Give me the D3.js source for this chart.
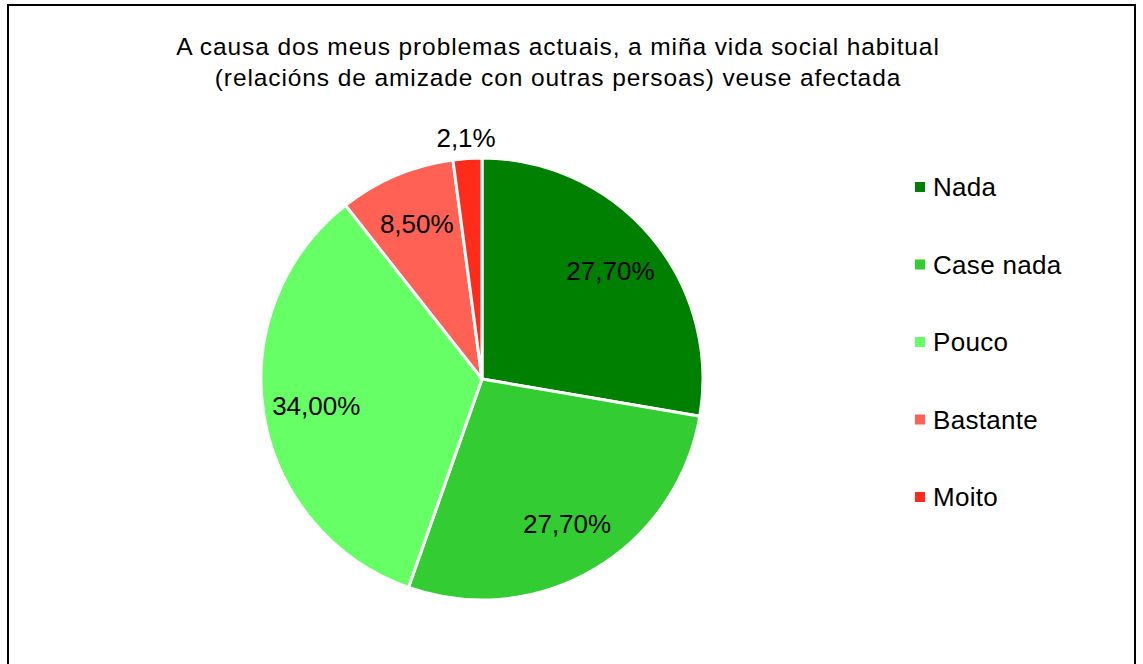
<!DOCTYPE html>
<html lang="gl">
<head>
    <meta charset="UTF-8">
    <title>Vida social habitual</title>
    <script src="https://d3js.org/d3.v7.min.js"></script>
    <style>
        body { margin: 0; background: #fff; }
        svg { display: block; font-family: "Liberation Sans", Arial, sans-serif; }
    </style>
</head>
<body>
    <svg width="1143" height="664"></svg>

    <script>
        // Data
        const categories = ["Nada", "Case nada", "Pouco", "Bastante", "Moito"];
        const values = [27.7, 27.7, 34.0, 8.5, 2.1];
        const labels = ["27,70%", "27,70%", "34,00%", "8,50%", "2,1%"];
        const colors = ["#008000", "#33CC33", "#66FF66", "#FF6155", "#FF2B1B"];
        const titleLines = [
            "A causa dos meus problemas actuais, a miña vida social habitual",
            "(relacións de amizade con outras persoas) veuse afectada"
        ];

        const width = 1143;
        const height = 664;
        const svg = d3.select("svg");

        // Chart frame (bottom edge runs off the picture)
        svg.append("rect")
            .attr("x", 8)
            .attr("y", 5)
            .attr("width", 1127)
            .attr("height", 720)
            .attr("fill", "#fff")
            .attr("stroke", "#000")
            .attr("stroke-width", 2);

        // Title
        svg.append("g")
            .selectAll("text")
            .data(titleLines)
            .join("text")
            .attr("x", 558)
            .attr("y", (d, i) => 55 + i * 31)
            .attr("text-anchor", "middle")
            .style("font-size", "24.5px")
            .style("letter-spacing", "0.9px")
            .attr("fill", "#000")
            .text(d => d);

        // Pie
        const cx = 482, cy = 379, radius = 221;
        const pie = d3.pie().sort(null).value(d => d)(values);
        const arc = d3.arc().innerRadius(0).outerRadius(radius);
        const labelArc = d3.arc().innerRadius(168).outerRadius(168);
        const outerLabelArc = d3.arc().innerRadius(242).outerRadius(242);

        const g = svg.append("g").attr("transform", `translate(${cx},${cy})`);

        g.selectAll("path")
            .data(pie)
            .join("path")
            .attr("d", arc)
            .attr("fill", (d, i) => colors[i])
            .attr("stroke", "#fff")
            .attr("stroke-width", 3)
            .attr("stroke-linejoin", "round");

        // Data labels: small slice goes outside
        g.selectAll("text.lbl")
            .data(pie)
            .join("text")
            .attr("class", "lbl")
            .attr("transform", (d, i) => {
                const c = values[i] < 5 ? outerLabelArc.centroid(d) : labelArc.centroid(d);
                return `translate(${c[0]},${c[1]})`;
            })
            .attr("text-anchor", "middle")
            .attr("dy", "0.35em")
            .style("font-size", "26px")
            .attr("fill", "#000")
            .text((d, i) => labels[i]);

        // Legend
        const legend = svg.append("g")
            .selectAll("g")
            .data(categories)
            .join("g")
            .attr("transform", (d, i) => `translate(915,${187 + i * 77.5})`);

        legend.append("rect")
            .attr("x", 0)
            .attr("y", -5)
            .attr("width", 10)
            .attr("height", 10)
            .attr("fill", (d, i) => colors[i]);

        legend.append("text")
            .attr("x", 18)
            .attr("y", 9)
            .style("font-size", "26px")
            .style("letter-spacing", "0.3px")
            .attr("fill", "#000")
            .text(d => d);
    </script>
</body>
</html>
